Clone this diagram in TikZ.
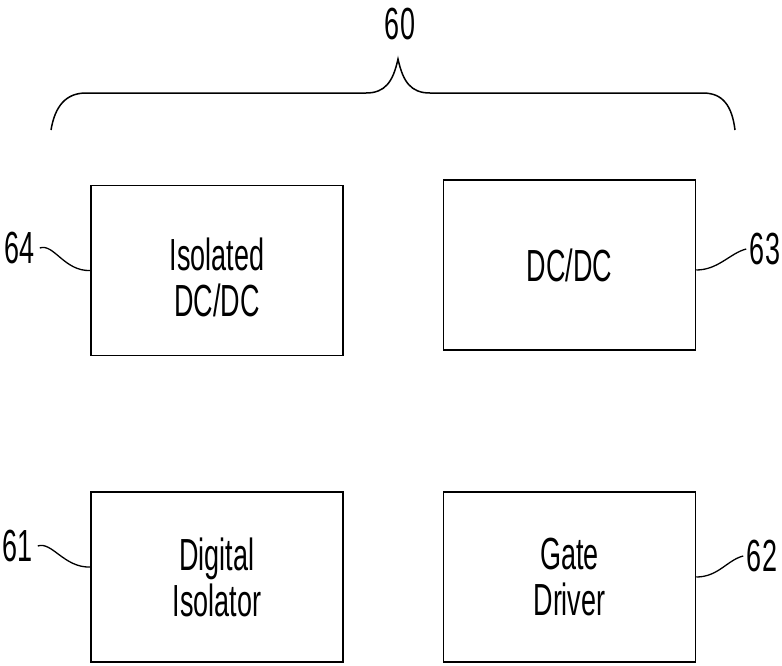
\documentclass[tikz,border=0pt]{standalone}
\usepackage{fontspec}
\setmainfont{Liberation Sans}[FakeStretch=0.6]
\begin{document}
\begin{tikzpicture}[x=1pt,y=-1pt,
  line width=1.5pt,
  block/.style={draw=black, minimum width=252pt, minimum height=170pt,
    align=center, inner sep=0pt, font=\fontsize{45}{46}\selectfont},
  refnum/.style={inner sep=0pt, font=\fontsize{45}{45}\selectfont},
  leader/.style={line width=1.3pt}]
\useasboundingbox (0,0) rectangle (782,665);

% the four blocks
\node[block] (b64) at (217,270.5) {\rule{0pt}{47pt}Isolated\\DC/DC};
\node[block] (b63) at (569.5,265) {DC/DC};
\node[block] (b61) at (217,577) {Digital\\Isolator};
\node[block] (b62) at (569.5,577) {Gate\\Driver};

% reference numerals
\node[refnum] (l60) at (400,24) {60};
\node[refnum] (l64) at (20,248) {64};
\node[refnum] (l63) at (765,249) {63};
\node[refnum] (l61) at (18,546) {61};
\node[refnum] (l62) at (762,556) {62};

% brace spanning the whole group
\coordinate (bl) at (51,130);
\coordinate (br) at (735,130);
\coordinate (tip) at (398,59);
\draw (bl) .. controls (55,106) and (66,93) .. (86,93) -- (366,93)
  .. controls (385,93) and (393,82) .. (tip)
  .. controls (403,82) and (411,93) .. (430,93) -- (703,93)
  .. controls (723,93) and (732,106) .. (br);

% leader lines
\draw[leader] ([xshift=4pt]l64.east) .. controls +(14,-5) and +(-26,1) .. (b64.west);
\draw[leader] ([xshift=4pt]l61.east) .. controls +(14,-5) and +(-26,1) .. ([yshift=10pt]b61.west);
\draw[leader] ([yshift=-5pt]b63.east) .. controls +(22,0) and +(-16,4) .. ([xshift=-3pt]l63.west);
\draw[leader] (b62.east) .. controls +(22,0) and +(-16,4) .. ([xshift=-3pt]l62.west);
\end{tikzpicture}
\end{document}
